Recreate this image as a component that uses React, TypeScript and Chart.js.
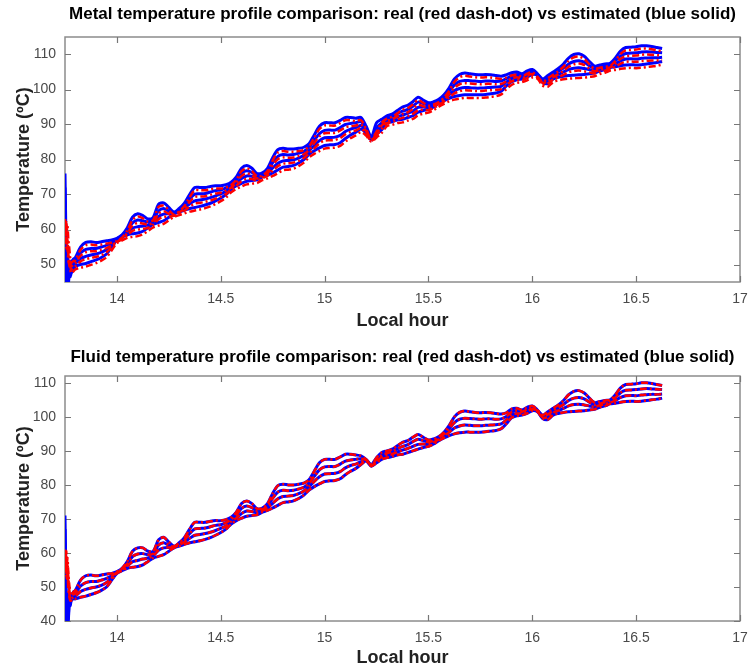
import React, { useEffect, useRef } from "react";
import { Chart, registerables } from "chart.js";
Chart.register(...registerables);

// ---------- time axis (hours) ----------
const TIME_START = [13.75, 13.753, 13.756, 13.759, 13.762, 13.766, 13.77, 13.775, 13.78, 13.79];
const TIME_MAIN = [
  13.8, 13.825, 13.85, 13.875, 13.9, 13.925, 13.95, 13.975, 14, 14.025,
  14.05, 14.075, 14.1, 14.125, 14.15, 14.175, 14.2, 14.225, 14.25, 14.275,
  14.3, 14.325, 14.35, 14.375, 14.4, 14.425, 14.45, 14.475, 14.5, 14.525,
  14.55, 14.575, 14.6, 14.625, 14.65, 14.675, 14.7, 14.725, 14.75, 14.775,
  14.8, 14.825, 14.85, 14.875, 14.9, 14.925, 14.95, 14.975, 15, 15.025,
  15.05, 15.075, 15.1, 15.125, 15.15, 15.175, 15.2, 15.225, 15.25, 15.275,
  15.3, 15.325, 15.35, 15.375, 15.4, 15.425, 15.45, 15.475, 15.5, 15.525,
  15.55, 15.575, 15.6, 15.625, 15.65, 15.675, 15.7, 15.725, 15.75, 15.775,
  15.8, 15.825, 15.85, 15.875, 15.9, 15.925, 15.95, 15.975, 16, 16.025,
  16.05, 16.075, 16.1, 16.125, 16.15, 16.175, 16.2, 16.225, 16.25, 16.275,
  16.3, 16.325, 16.35, 16.375, 16.4, 16.425, 16.45, 16.475, 16.5, 16.525,
  16.55, 16.575, 16.6, 16.625,
];

const X_TICKS = [14, 14.5, 15, 15.5, 16, 16.5, 17];
const METAL_Y_TICKS = [50, 60, 70, 80, 90, 100, 110];
const FLUID_Y_TICKS = [40, 50, 60, 70, 80, 90, 100, 110];

// ---------- metal: estimated (blue) ----------
const METAL_EST_START_1 = [76, 64, 50, 46, 53, 47, 51, 49, 50.5, 51.5];
const METAL_EST_START_2 = [72, 60, 47, 44, 51, 45.5, 49.5, 48, 49.5, 50.5];
const METAL_EST_START_3 = [68, 56, 45, 43, 49, 44.5, 48.5, 47, 48.5, 49.5];
const METAL_EST_START_4 = [64, 52, 44, 42, 47.5, 44, 47.5, 46.5, 47.5, 48.5];

const METAL_EST_1 = [
  52, 55, 56.3, 56.5, 56.3, 56.5, 56.8, 57, 57.5, 58.5,
  60.5, 63.5, 64.5, 64, 63, 63.5, 67.2, 67.6, 66.3, 65,
  66, 67.5, 70, 72, 72, 72, 72.3, 72.5, 72.5, 72.8,
  73.5, 75, 77.5, 78.3, 77.5, 76, 76.2, 77.5, 80.5, 82.8,
  83.2, 83, 83, 83.2, 83.5, 84.5, 87, 89.5, 90.5, 90.5,
  90.5, 91.2, 92, 92, 91.8, 92, 89.5, 86.5, 90.5, 91.5,
  92.5, 93, 94, 95, 95.5, 96.5, 97.8, 97, 96.2, 96.5,
  97.2, 98.5, 100.5, 103, 104.3, 104.7, 104.5, 104.3, 104.2, 104.3,
  104.2, 104, 103.8, 104.2, 104.8, 105, 104.5, 105.3, 105.7, 104.5,
  103, 104, 105, 106, 107.3, 109, 110, 110.2, 109.5, 108,
  106.7, 107, 107.3, 107.5, 109, 111, 112, 112.1, 112.2, 112.5,
  112.5, 112.3, 112, 111.7,
];
const METAL_EST_2 = [
  51.2, 53.3, 54.3, 54.6, 54.6, 55.0, 55.5, 56.3, 57.3, 58.3,
  59.8, 61.9, 62.7, 62.5, 62.2, 62.8, 65.3, 66.0, 65.3, 64.8,
  65.7, 66.8, 68.7, 70.1, 70.2, 70.3, 70.7, 71.1, 71.3, 71.9,
  72.8, 74.2, 76.1, 76.8, 76.3, 75.4, 75.8, 76.8, 79.1, 80.9,
  81.4, 81.3, 81.4, 81.8, 82.3, 83.5, 85.5, 87.4, 88.3, 88.4,
  88.4, 89.1, 90.0, 90.3, 90.5, 90.8, 88.8, 86.2, 89, 90.5,
  91.8, 92.3, 93.1, 93.8, 94.3, 95.2, 96.4, 96.0, 95.6, 96.0,
  96.8, 97.9, 99.5, 101.3, 102.3, 102.6, 102.5, 102.4, 102.3, 102.4,
  102.4, 102.3, 102.4, 103.1, 103.9, 104.3, 104.0, 104.7, 105.2, 104.3,
  102.7, 103.2, 104.3, 105.2, 106.1, 107.3, 108.0, 108.2, 107.8, 106.8,
  106.0, 106.4, 106.8, 107.1, 108.2, 109.6, 110.3, 110.4, 110.5, 110.7,
  110.8, 110.7, 110.6, 110.5,
];
const METAL_EST_3 = [
  50.3, 51.7, 52.3, 52.7, 53.0, 53.5, 54.3, 55.7, 57.2, 58.0,
  59.2, 60.4, 60.8, 61.0, 61.3, 62.2, 63.7, 64.4, 64.5, 64.7,
  65.3, 66.2, 67.3, 68.2, 68.4, 68.7, 69.1, 69.6, 70.2, 70.9,
  72.2, 73.3, 74.6, 75.3, 75.2, 74.8, 75.4, 76.2, 77.6, 78.9,
  79.6, 79.7, 79.9, 80.4, 81.2, 82.5, 84.0, 85.4, 86.2, 86.3,
  86.4, 86.9, 88.0, 88.7, 89.1, 89.7, 88.2, 85.9, 88, 89.5,
  91.2, 91.5, 92.2, 92.7, 93.2, 93.8, 94.9, 95.0, 94.9, 95.5,
  96.4, 97.4, 98.5, 99.7, 100.3, 100.6, 100.5, 100.4, 100.4, 100.5,
  100.6, 100.7, 100.9, 102.1, 103.1, 103.5, 103.5, 104.1, 104.8, 104.2,
  102.3, 102.5, 103.7, 104.3, 105.0, 105.7, 106.1, 106.2, 106.0, 105.7,
  105.4, 105.9, 106.2, 106.7, 107.3, 108.2, 108.7, 108.8, 108.7, 108.9,
  109.0, 109.1, 109.1, 109.2,
];
const METAL_EST_4 = [
  49.5, 50, 50.3, 50.8, 51.3, 52, 53, 55, 57, 57.8,
  58.5, 58.8, 59, 59.5, 60.5, 61.5, 62, 62.5, 63.5, 64.5,
  65, 65.5, 66, 66.3, 66.6, 67, 67.5, 68.2, 69, 70,
  71.5, 72.5, 73.2, 73.8, 74, 74.2, 75, 75.5, 76.2, 77,
  77.8, 78, 78.3, 79, 80, 81.5, 82.5, 83.3, 84, 84.2,
  84.3, 84.8, 86, 87, 87.8, 88.7, 87.5, 85.6, 87.2, 88.5,
  90.5, 90.8, 91.3, 91.5, 92, 92.5, 93.5, 94, 94.3, 95,
  96, 96.8, 97.5, 98, 98.3, 98.5, 98.5, 98.5, 98.5, 98.6,
  98.8, 99, 99.5, 101, 102.2, 102.8, 103, 103.5, 104.3, 104,
  102, 101.7, 103, 103.5, 103.8, 104, 104.1, 104.2, 104.3, 104.5,
  104.7, 105.3, 105.7, 106.3, 106.5, 106.8, 107, 107.1, 107, 107.1,
  107.3, 107.5, 107.7, 108,
];

// ---------- metal: real (red) ----------
const METAL_REAL_START_1 = [63, 61, 62.5, 60, 61, 57, 55, 52, 50.5, 51];
const METAL_REAL_START_2 = [62, 59, 61, 58, 59, 55, 53, 50.5, 49.5, 50];
const METAL_REAL_START_3 = [60, 57, 59.5, 56, 57, 53, 51.5, 49.5, 48.5, 49];
const METAL_REAL_START_4 = [58, 55, 57, 54, 55, 51, 50, 48.5, 47.5, 48];

const METAL_REAL_1 = [
  51.2, 54.2, 55.5, 55.7, 55.5, 55.7, 56.0, 56.2, 56.7, 57.7,
  59.7, 62.7, 63.7, 63.2, 62.2, 62.7, 66.4, 66.8, 65.5, 64.2,
  65.2, 66.7, 69.2, 71.2, 71.2, 71.2, 71.5, 71.7, 71.7, 72.0,
  72.7, 74.2, 76.7, 77.5, 76.7, 75.2, 75.4, 76.7, 79.7, 82.0,
  82.4, 82.2, 82.2, 82.4, 82.7, 83.7, 86.2, 88.7, 89.7, 89.7,
  89.7, 90.4, 91.2, 91.2, 91.0, 91.2, 88.7, 85.7, 88.0, 90.5,
  91.7, 92.2, 93.2, 94.2, 94.7, 95.7, 97.0, 96.2, 95.4, 95.7,
  96.4, 97.7, 99.7, 102.2, 103.5, 103.9, 103.7, 103.5, 103.4, 103.5,
  103.4, 103.2, 103.0, 103.4, 104.0, 104.2, 103.7, 104.5, 104.9, 103.7,
  102.2, 103.2, 104.2, 105.2, 106.5, 108.2, 109.2, 109.4, 108.7, 107.2,
  105.9, 106.2, 106.5, 106.7, 108.2, 110.2, 111.2, 111.3, 111.4, 111.7,
  111.7, 111.5, 111.2, 110.9,
];
const METAL_REAL_2 = [
  50.4, 52.5, 53.5, 53.8, 53.8, 54.2, 54.7, 55.5, 56.5, 57.5,
  59.0, 61.1, 61.9, 61.7, 61.4, 62.0, 64.5, 65.2, 64.5, 64.0,
  64.9, 66.0, 67.9, 69.3, 69.4, 69.5, 69.9, 70.3, 70.5, 71.1,
  72.0, 73.4, 75.3, 76.0, 75.5, 74.6, 75.0, 76.0, 78.3, 80.1,
  80.6, 80.5, 80.6, 81.0, 81.5, 82.7, 84.7, 86.6, 87.5, 87.6,
  87.6, 88.3, 89.2, 89.5, 89.7, 90.0, 88.0, 85.5, 87.4, 89.7,
  91.0, 91.5, 92.3, 93.0, 93.5, 94.4, 95.6, 95.2, 94.8, 95.2,
  96.0, 97.1, 98.7, 100.5, 101.5, 101.8, 101.7, 101.6, 101.5, 101.6,
  101.6, 101.5, 101.6, 102.3, 103.1, 103.5, 103.2, 103.9, 104.4, 103.5,
  101.9, 102.4, 103.5, 104.4, 105.3, 106.5, 107.2, 107.4, 107.0, 106.0,
  105.2, 105.6, 106.0, 106.3, 107.4, 108.8, 109.5, 109.6, 109.7, 109.9,
  110.0, 109.9, 109.8, 109.7,
];
const METAL_REAL_3 = [
  49.5, 50.9, 51.5, 51.9, 52.2, 52.7, 53.5, 54.9, 56.4, 57.2,
  58.4, 59.6, 60.0, 60.2, 60.5, 61.4, 62.9, 63.6, 63.7, 63.9,
  64.5, 65.4, 66.5, 67.4, 67.6, 67.9, 68.3, 68.8, 69.4, 70.1,
  71.4, 72.5, 73.8, 74.5, 74.4, 74.0, 74.6, 75.4, 76.8, 78.1,
  78.8, 78.9, 79.1, 79.6, 80.4, 81.7, 83.2, 84.6, 85.4, 85.5,
  85.6, 86.1, 87.2, 87.9, 88.3, 88.9, 87.4, 85.3, 86.9, 88.7,
  90.4, 90.7, 91.4, 91.9, 92.4, 93.0, 94.1, 94.2, 94.1, 94.7,
  95.6, 96.6, 97.7, 98.9, 99.5, 99.8, 99.7, 99.6, 99.6, 99.7,
  99.8, 99.9, 100.1, 101.3, 102.3, 102.7, 102.7, 103.3, 104.0, 103.4,
  101.5, 101.7, 102.9, 103.5, 104.2, 104.9, 105.3, 105.4, 105.2, 104.9,
  104.6, 105.1, 105.4, 105.9, 106.5, 107.4, 107.9, 108.0, 107.9, 108.1,
  108.2, 108.3, 108.3, 108.4,
];
const METAL_REAL_4 = [
  48.6, 49.1, 49.4, 49.9, 50.4, 51.1, 52.1, 54.1, 56.1, 56.9,
  57.6, 57.9, 58.1, 58.6, 59.6, 60.6, 61.1, 61.6, 62.6, 63.6,
  64.1, 64.6, 65.1, 65.4, 65.7, 66.1, 66.6, 67.3, 68.1, 69.1,
  70.6, 71.6, 72.3, 72.9, 73.1, 73.3, 74.1, 74.6, 75.3, 76.1,
  76.9, 77.1, 77.4, 78.1, 79.1, 80.6, 81.6, 82.4, 83.1, 83.3,
  83.4, 83.9, 85.1, 86.1, 86.9, 87.8, 86.8, 85.1, 86.3, 87.6,
  89.6, 89.9, 90.4, 90.6, 91.1, 91.6, 92.6, 93.1, 93.4, 94.1,
  95.1, 95.9, 96.6, 97.1, 97.4, 97.6, 97.6, 97.6, 97.6, 97.7,
  97.9, 98.1, 98.6, 100.1, 101.3, 101.9, 102.1, 102.6, 103.4, 103.1,
  101.1, 100.8, 102.1, 102.6, 102.9, 103.1, 103.2, 103.3, 103.4, 103.6,
  103.8, 104.4, 104.8, 105.4, 105.6, 105.9, 106.1, 106.2, 106.1, 106.2,
  106.4, 106.6, 106.8, 107.1,
];

// ---------- fluid: start transients ----------
const FLUID_EST_START_1 = [71, 58, 45, 42, 48, 43, 47, 46, 47.5, 48.5];
const FLUID_EST_START_2 = [67, 55, 43, 41, 46.5, 41.5, 46, 45.5, 47, 47.8];
const FLUID_EST_START_3 = [63, 52, 42, 40.5, 45, 40.5, 45.5, 45, 46.5, 47];
const FLUID_EST_START_4 = [59, 49, 41, 40, 44, 40.2, 45, 44.5, 46, 46.5];
const FLUID_REAL_START_1 = [61, 58, 60.5, 57, 58.5, 54, 51, 48, 47.5, 48.5];
const FLUID_REAL_START_2 = [60, 56.5, 59, 55.5, 57, 52.5, 49.5, 47, 47, 47.8];
const FLUID_REAL_START_3 = [58.5, 55, 57.5, 54, 55.5, 51, 48.5, 46.5, 46.5, 47];
const FLUID_REAL_START_4 = [57, 53.5, 56, 52.5, 54, 49.5, 47.5, 46, 46, 46.5];

// ---------- fluid: real and estimated coincide after the start ----------
const FLUID_1 = [
  49, 52, 53.3, 53.5, 53.3, 53.5, 53.8, 54, 54.5, 55.5,
  57.5, 60.5, 61.5, 61.5, 60.5, 60.5, 63.8, 64.6, 63.2, 62,
  63, 64.5, 67, 69, 69, 69, 69.3, 69.5, 69.5, 69.8,
  70.5, 72, 74.5, 75.3, 74.5, 73, 73.2, 74.5, 77.5, 79.8,
  80.2, 80, 80, 80.2, 80.5, 81.5, 84, 86.5, 87.5, 87.5,
  87.5, 88.2, 89, 89, 88.8, 88.5, 87.5, 86, 88, 89.5,
  90, 90.5, 91.5, 92.5, 93, 94, 94.8, 94, 93.2, 93.5,
  94.2, 95.5, 97.5, 100, 101.3, 101.7, 101.5, 101.3, 101.2, 101.3,
  101.2, 101, 100.8, 101.2, 102.3, 102.5, 102, 102.8, 103.2, 102,
  100.5, 101.5, 102.5, 103.5, 104.8, 106.5, 107.5, 107.7, 107, 105.5,
  104.2, 104.5, 104.8, 105, 106.5, 108.5, 109.5, 109.6, 109.7, 110,
  110, 109.8, 109.5, 109.2,
];
const FLUID_2 = [
  48.2, 50.3, 51.3, 51.6, 51.6, 52.0, 52.5, 53.3, 54.3, 55.3,
  56.8, 58.9, 59.7, 59.8, 59.5, 59.8, 62.3, 63.0, 62.3, 61.8,
  62.7, 63.8, 65.7, 67.1, 67.2, 67.3, 67.7, 68.1, 68.3, 68.9,
  69.8, 71.2, 73.1, 73.8, 73.3, 72.4, 72.8, 73.8, 76.1, 77.9,
  78.4, 78.3, 78.4, 78.8, 79.3, 80.5, 82.5, 84.4, 85.3, 85.4,
  85.4, 86.1, 87.0, 87.3, 87.5, 87.7, 87.3, 85.8, 87.5, 88.8,
  89.3, 89.8, 90.6, 91.3, 91.8, 92.7, 93.4, 93.0, 92.6, 93.0,
  93.8, 94.9, 96.5, 98.3, 99.3, 99.6, 99.5, 99.4, 99.3, 99.4,
  99.4, 99.3, 99.4, 100.1, 101.4, 101.8, 101.5, 102.2, 102.7, 101.8,
  100.2, 100.7, 101.8, 102.7, 103.6, 104.8, 105.5, 105.7, 105.3, 104.3,
  103.5, 103.9, 104.3, 104.6, 105.7, 107.1, 107.8, 107.9, 108.0, 108.2,
  108.3, 108.2, 108.1, 108.0,
];
const FLUID_3 = [
  47.3, 48.7, 49.3, 49.7, 50.0, 50.5, 51.3, 52.7, 54.2, 55.0,
  56.2, 57.4, 57.8, 58.2, 58.5, 59.2, 60.8, 61.5, 61.6, 61.7,
  62.3, 63.2, 64.3, 65.2, 65.4, 65.7, 66.1, 66.6, 67.2, 67.9,
  69.2, 70.3, 71.6, 72.3, 72.2, 71.8, 72.4, 73.2, 74.6, 75.9,
  76.6, 76.7, 76.9, 77.4, 78.2, 79.5, 81.0, 82.4, 83.2, 83.3,
  83.4, 83.9, 85.0, 85.7, 86.1, 86.8, 87.2, 85.7, 87.0, 88.2,
  88.7, 89.0, 89.7, 90.2, 90.7, 91.3, 91.9, 92.0, 91.9, 92.5,
  93.4, 94.4, 95.5, 96.7, 97.3, 97.6, 97.5, 97.4, 97.4, 97.5,
  97.6, 97.7, 97.9, 99.1, 100.6, 101.0, 101.0, 101.6, 102.3, 101.7,
  99.8, 100.0, 101.2, 101.8, 102.5, 103.2, 103.6, 103.7, 103.5, 103.2,
  102.9, 103.4, 103.7, 104.2, 104.8, 105.7, 106.2, 106.3, 106.2, 106.4,
  106.5, 106.6, 106.6, 106.7,
];
const FLUID_4 = [
  46.5, 47, 47.3, 47.8, 48.3, 49, 50, 52, 54, 54.8,
  55.5, 55.8, 56, 56.5, 57.5, 58.5, 59, 59.5, 60.5, 61.5,
  62, 62.5, 63, 63.3, 63.6, 64, 64.5, 65.2, 66, 67,
  68.5, 69.5, 70.2, 70.8, 71, 71.2, 72, 72.5, 73.2, 74,
  74.8, 75, 75.3, 76, 77, 78.5, 79.5, 80.3, 81, 81.2,
  81.3, 81.8, 83, 84, 84.8, 86, 87, 85.5, 86.5, 87.5,
  88, 88.3, 88.8, 89, 89.5, 90, 90.5, 91, 91.3, 92,
  93, 93.8, 94.5, 95, 95.3, 95.5, 95.5, 95.5, 95.5, 95.6,
  95.8, 96, 96.5, 98, 99.7, 100.3, 100.5, 101, 101.8, 101.5,
  99.5, 99.2, 100.5, 101, 101.3, 101.5, 101.6, 101.7, 101.8, 102,
  102.2, 102.8, 103.2, 103.8, 104, 104.3, 104.5, 104.6, 104.5, 104.6,
  104.8, 105, 105.2, 105.5,
];

const FONT = '"Liberation Sans", Arial, Helvetica, sans-serif';

const toPoints = (startY: number[], mainY: number[]) => [
  ...TIME_START.map((x, i) => ({ x, y: startY[i] })),
  ...TIME_MAIN.map((x, i) => ({ x, y: mainY[i] })),
];

const framePlugin = {
  id: "frameTitle",
  beforeDatasetsDraw(chart: any) {
    const { ctx, chartArea } = chart;
    const { left, right, top, bottom } = chartArea;
    ctx.save();
    ctx.strokeStyle = "#8c8c8c";
    ctx.lineWidth = 1.5;
    ctx.strokeRect(left, top, right - left, bottom - top);
    ctx.lineWidth = 1.2;
    ctx.strokeStyle = "#777";
    const xs = chart.scales.x;
    const ys = chart.scales.y;
    ctx.beginPath();
    xs.ticks.forEach((t: any) => {
      const p = Math.round(xs.getPixelForValue(t.value)) + 0.5;
      ctx.moveTo(p, bottom);
      ctx.lineTo(p, bottom - 6);
      ctx.moveTo(p, top);
      ctx.lineTo(p, top + 6);
    });
    ys.ticks.forEach((t: any) => {
      const p = Math.round(ys.getPixelForValue(t.value)) + 0.5;
      ctx.moveTo(left, p);
      ctx.lineTo(left + 6, p);
      ctx.moveTo(right, p);
      ctx.lineTo(right - 6, p);
    });
    ctx.stroke();
    ctx.restore();
  },
  afterDraw(chart: any, _args: any, opts: any) {
    const { ctx, chartArea } = chart;
    ctx.save();
    ctx.fillStyle = "#000";
    ctx.font = `bold 17px ${FONT}`;
    ctx.textAlign = "center";
    ctx.textBaseline = "middle";
    ctx.fillText(opts.text, (chartArea.left + chartArea.right) / 2, opts.y);
    ctx.restore();
  },
};

type PlotSpec = {
  title: string;
  titleY: number;
  yMin: number;
  yMax: number;
  yTicks: number[];
  padTop: number;
  xAxisHeight: number;
  titlePadBottom: number;
  est: { start: number[]; main: number[] }[];
  real: { start: number[]; main: number[] }[];
};

function makeChart(canvas: HTMLCanvasElement, spec: PlotSpec) {
  const realSets = spec.real.map((s, i) => ({
    label: `real ${i + 1}`,
    data: toPoints(s.start, s.main),
    borderColor: "#ff0000",
    borderWidth: 2.5,
    borderDash: [7, 3, 2, 3],
    pointRadius: 0,
    tension: 0.3,
    order: 0,
  }));
  const estSets = spec.est.map((s, i) => ({
    label: `estimated ${i + 1}`,
    data: toPoints(s.start, s.main),
    borderColor: "#0000ff",
    borderWidth: 3,
    pointRadius: 0,
    tension: 0.3,
    order: 1,
  }));
  return new Chart(canvas, {
    type: "line",
    data: { datasets: [...realSets, ...estSets] as any },
    plugins: [framePlugin as any],
    options: {
      animation: false,
      responsive: false,
      events: [],
      layout: { padding: { top: spec.padTop, right: 8, left: 0, bottom: 0 } },
      plugins: {
        legend: { display: false },
        tooltip: { enabled: false },
        title: { display: false },
        frameTitle: { text: spec.title, y: spec.titleY },
      } as any,
      scales: {
        x: {
          type: "linear",
          min: 13.75,
          max: 17,
          afterBuildTicks: (s: any) => {
            s.ticks = X_TICKS.map((v) => ({ value: v }));
          },
          afterFit: (s: any) => {
            s.height = spec.xAxisHeight;
            s.paddingLeft = 0;
            s.paddingRight = 0;
          },
          grid: { display: false, drawTicks: false },
          border: { display: false },
          ticks: {
            padding: 9,
            color: "#4a4a4a",
            font: { family: FONT, size: 14 },
            maxRotation: 0,
            callback: (v: any) => String(v),
          },
          title: {
            display: true,
            text: "Local hour",
            color: "#222",
            font: { family: FONT, size: 18, weight: "bold" },
            padding: { top: 0, bottom: spec.titlePadBottom },
          },
        },
        y: {
          type: "linear",
          min: spec.yMin,
          max: spec.yMax,
          afterBuildTicks: (s: any) => {
            s.ticks = spec.yTicks.map((v) => ({ value: v }));
          },
          afterFit: (s: any) => {
            s.width = 65;
            s.paddingTop = 0;
            s.paddingBottom = 0;
          },
          grid: { display: false, drawTicks: false },
          border: { display: false },
          ticks: {
            padding: 9,
            color: "#4a4a4a",
            font: { family: FONT, size: 14 },
            callback: (v: any) => String(v),
          },
          title: {
            display: true,
            text: "Temperature (ºC)",
            color: "#222",
            font: { family: FONT, size: 18, weight: "bold" },
            padding: { top: 13, bottom: 0 },
          },
        },
      },
    } as any,
  });
}

export default function App() {
  const topRef = useRef<HTMLCanvasElement>(null);
  const botRef = useRef<HTMLCanvasElement>(null);

  useEffect(() => {
    const metal = makeChart(topRef.current!, {
      title: "Metal temperature profile comparison: real (red dash-dot) vs estimated (blue solid)",
      titleY: 14,
      yMin: 45,
      yMax: 115,
      yTicks: METAL_Y_TICKS,
      padTop: 37,
      xAxisHeight: 53,
      titlePadBottom: 3,
      est: [
        { start: METAL_EST_START_1, main: METAL_EST_1 },
        { start: METAL_EST_START_2, main: METAL_EST_2 },
        { start: METAL_EST_START_3, main: METAL_EST_3 },
        { start: METAL_EST_START_4, main: METAL_EST_4 },
      ],
      real: [
        { start: METAL_REAL_START_1, main: METAL_REAL_1 },
        { start: METAL_REAL_START_2, main: METAL_REAL_2 },
        { start: METAL_REAL_START_3, main: METAL_REAL_3 },
        { start: METAL_REAL_START_4, main: METAL_REAL_4 },
      ],
    });
    const fluid = makeChart(botRef.current!, {
      title: "Fluid temperature profile comparison: real (red dash-dot) vs estimated (blue solid)",
      titleY: 22,
      yMin: 40,
      yMax: 112,
      yTicks: FLUID_Y_TICKS,
      padTop: 41,
      xAxisHeight: 48,
      titlePadBottom: 0,
      est: [
        { start: FLUID_EST_START_1, main: FLUID_1 },
        { start: FLUID_EST_START_2, main: FLUID_2 },
        { start: FLUID_EST_START_3, main: FLUID_3 },
        { start: FLUID_EST_START_4, main: FLUID_4 },
      ],
      real: [
        { start: FLUID_REAL_START_1, main: FLUID_1 },
        { start: FLUID_REAL_START_2, main: FLUID_2 },
        { start: FLUID_REAL_START_3, main: FLUID_3 },
        { start: FLUID_REAL_START_4, main: FLUID_4 },
      ],
    });
    return () => {
      metal.destroy();
      fluid.destroy();
    };
  }, []);

  return (
    <div style={{ position: "absolute", left: 0, top: 0, width: 748, height: 669, background: "#fff" }}>
      <canvas ref={topRef} width={748} height={335} style={{ display: "block" }} />
      <canvas ref={botRef} width={748} height={334} style={{ display: "block" }} />
    </div>
  );
}
